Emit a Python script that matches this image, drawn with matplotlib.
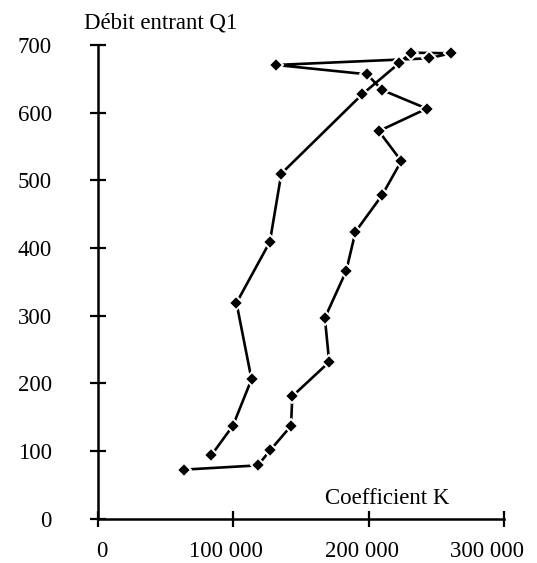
import matplotlib
matplotlib.use("Agg")
import matplotlib.pyplot as plt
from matplotlib.transforms import offset_copy

# Data (path order of the loop)
coef_k = [83800, 99800, 113500, 102400, 127000, 135500, 195100, 222300,
          231100, 260500, 244600, 131800, 198800, 209800, 242800, 207400,
          224000, 209800, 190200, 183300, 167600, 170800, 143600, 142600,
          127200, 118200, 63500]
debit_q1 = [93.6, 137.6, 206, 318.9, 409, 510, 627, 673,
            688.6, 687.8, 680.4, 670.5, 656.7, 633.5, 606, 572.8,
            528.5, 478, 424, 365.8, 296.7, 231.6, 180.9, 137,
            101, 78.8, 72.5]
x_ticks = [0, 100000, 200000, 300000]
x_tick_labels = ["0", "100 000", "200 000", "300 000"]
y_ticks = [0, 100, 200, 300, 400, 500, 600, 700]
y_tick_labels = ["0", "100", "200", "300", "400", "500", "600", "700"]

plt.rcParams['font.family'] = ['Liberation Serif', 'DejaVu Serif']
FS = 16.5

fig = plt.figure(figsize=(5.37, 5.63), dpi=100)
ax = fig.add_axes([97.7/537, 1 - 518.7/563, (504.3-97.7)/537, (518.7-45)/563])

ax.plot(coef_k, debit_q1, color='black', linewidth=1.9, marker='D',
        markersize=7.5, markerfacecolor='black', markeredgecolor='white',
        markeredgewidth=1.4, clip_on=False, zorder=3)

ax.set_xlim(0, 300000)
ax.set_ylim(0, 700)
ax.set_xticks(x_ticks)
ax.set_yticks(y_ticks)
ax.set_yticklabels(y_tick_labels)

for s in ['top', 'right']:
    ax.spines[s].set_visible(False)
for s in ['left', 'bottom']:
    ax.spines[s].set_linewidth(1.8)
    ax.spines[s].set_color('black')

ax.tick_params(axis='both', direction='inout', length=11, width=1.6,
               labelsize=FS, colors='black')
ax.tick_params(axis='y', pad=27.5)
ax.tick_params(axis='x', labelbottom=False)

# x tick labels, placed as in the reference (slightly shifted from ticks)
label_shift_px = [4, -7, -7, -17]
for xv, lab, dx in zip(x_ticks, x_tick_labels, label_shift_px):
    tr = offset_copy(ax.get_xaxis_transform(), fig=fig, x=dx, y=-38.5,
                     units='dots')
    ax.text(xv, 0, lab, transform=tr, fontsize=FS, ha='center',
            va='baseline', clip_on=False)

fig.text(161/537, 1 - 28.3/563, "Débit entrant Q1", fontsize=FS,
         ha='center', va='baseline')
fig.text(387/537, 1 - 504/563, "Coefficient K", fontsize=FS,
         ha='center', va='baseline')

fig.savefig("out.png", dpi=100, facecolor='white')
